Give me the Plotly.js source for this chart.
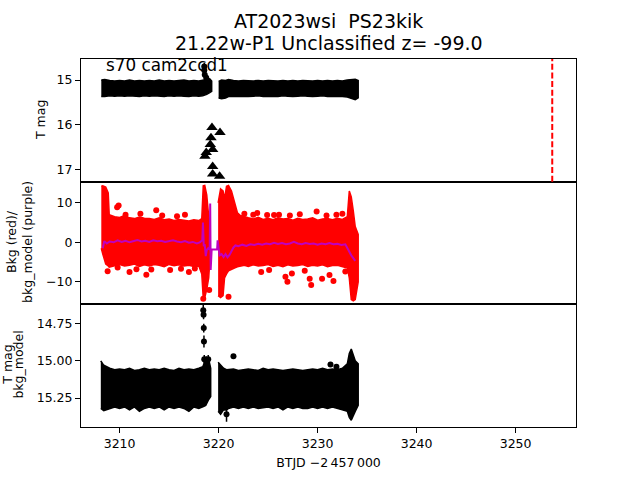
<!DOCTYPE html>
<html>
<head>
<meta charset="utf-8">
<script src="https://cdn.plot.ly/plotly-3.0.1.min.js"></script>
<style>html,body{margin:0;padding:0;background:#fff;}#plot{width:640px;height:480px;}</style>
</head>
<body>
<div id="plot"></div>
<script>
// ---------- Panel 1: T mag light curve (envelope of the dense black points) ----------
const tA_x   = [3208.15, 3208.5, 3209.0, 3209.5, 3210.0, 3210.5, 3211.0, 3211.5, 3212.0, 3212.5, 3213.0, 3213.5, 3214.0, 3214.5, 3215.0, 3215.5, 3216.0, 3216.5, 3217.0, 3217.5, 3218.0, 3218.4, 3218.8, 3219.1, 3219.3];
const tA_top = [15.00, 14.99, 15.01, 15.02, 15.01, 15.02, 15.00, 15.02, 15.01, 15.02, 15.01, 15.02, 15.00, 15.02, 15.01, 15.02, 15.01, 15.00, 15.02, 15.01, 15.02, 15.00, 14.98, 14.97, 15.02];
const tA_bot = [15.37, 15.37, 15.35, 15.36, 15.35, 15.36, 15.35, 15.36, 15.37, 15.35, 15.36, 15.35, 15.36, 15.37, 15.35, 15.36, 15.35, 15.36, 15.37, 15.35, 15.36, 15.35, 15.32, 15.28, 15.25];
const tB_x   = [3220.0, 3220.3, 3220.7, 3221.0, 3221.5, 3222.0, 3222.5, 3223.0, 3223.5, 3224.0, 3224.5, 3225.0, 3225.5, 3226.0, 3226.5, 3227.0, 3227.5, 3228.0, 3228.5, 3229.0, 3229.5, 3230.0, 3230.5, 3231.0, 3231.5, 3232.0, 3232.5, 3233.0, 3233.5, 3233.8, 3234.1];
const tB_top = [15.03, 15.00, 15.01, 14.99, 15.01, 15.02, 15.01, 15.02, 15.02, 15.01, 15.02, 15.01, 15.02, 15.02, 15.01, 15.02, 15.01, 15.02, 15.01, 15.02, 15.02, 15.01, 15.02, 15.01, 15.02, 15.01, 15.02, 15.00, 14.99, 14.98, 15.01];
const tB_bot = [15.40, 15.42, 15.40, 15.37, 15.36, 15.37, 15.36, 15.37, 15.36, 15.35, 15.37, 15.36, 15.36, 15.37, 15.35, 15.36, 15.37, 15.36, 15.35, 15.36, 15.37, 15.36, 15.35, 15.37, 15.36, 15.36, 15.37, 15.38, 15.42, 15.44, 15.40];
// bright spike points
const spike_x   = [3218.55, 3218.55, 3218.6, 3218.75];
const spike_y   = [14.70, 14.78, 14.88, 14.95];
const spike_err = [0.08, 0.05, 0.04, 0.03];
// upper limits (triangles)
const tri_x = [3219.33, 3220.14, 3219.23, 3219.16, 3219.4, 3218.62, 3218.75, 3219.4, 3219.4, 3220.1];
const tri_y = [16.06, 16.17, 16.29, 16.44, 16.55, 16.70, 16.62, 16.93, 17.10, 17.15];
// discovery date marker
const disc_x = 3253.7;

// ---------- Panel 2: background (red) and background model (purple) ----------
const rA_x   = [3208.15, 3208.3, 3208.6, 3208.85, 3208.95, 3209.5, 3210.0, 3210.5, 3211.0, 3211.5, 3212.0, 3212.5, 3213.0, 3213.5, 3214.0, 3214.5, 3215.0, 3215.5, 3216.0, 3216.5, 3217.0, 3217.5, 3218.0, 3218.3, 3218.45, 3218.6, 3218.8, 3219.0, 3219.15];
const rA_top = [14.2, 14.3, 14.0, 12.5, 7.0, 6.5, 6.3, 6.8, 6.2, 6.0, 6.4, 6.1, 6.0, 5.8, 6.2, 5.7, 5.9, 5.5, 5.8, 5.6, 5.4, 5.7, 5.5, 6.0, 14.3, 14.4, 12.0, 6.5, 4.0];
const rA_bot = [-1.5, -3.0, -5.5, -6.0, -6.3, -6.0, -5.6, -6.0, -5.8, -5.5, -6.1, -5.7, -6.0, -5.6, -5.8, -6.2, -5.6, -5.9, -5.7, -6.0, -5.8, -6.1, -6.0, -8.0, -14.3, -14.0, -12.0, -9.0, -3.0];
const rB_x   = [3219.95, 3220.2, 3220.45, 3220.6, 3220.8, 3221.0, 3221.3, 3221.6, 3221.9, 3222.2, 3222.6, 3223.0, 3223.5, 3224.0, 3224.5, 3225.0, 3225.5, 3226.0, 3226.5, 3227.0, 3227.5, 3228.0, 3228.5, 3229.0, 3229.5, 3230.0, 3230.5, 3231.0, 3231.5, 3232.0, 3232.5, 3233.0, 3233.2, 3233.4, 3233.6, 3233.8, 3234.1];
const rB_top = [10.0, 13.5, 13.0, 11.0, 14.2, 14.4, 13.0, 10.0, 7.5, 6.8, 6.4, 6.2, 5.9, 6.3, 5.8, 6.1, 5.7, 6.2, 5.9, 6.0, 5.6, 6.1, 5.8, 5.9, 6.2, 5.6, 5.9, 6.0, 5.7, 6.1, 5.8, 6.5, 13.0, 11.5, 8.0, 4.0, 2.0];
const rB_bot = [-13.5, -14.0, -13.5, -9.0, -8.0, -7.2, -6.8, -6.5, -6.2, -6.0, -5.8, -6.1, -5.7, -6.0, -5.9, -5.6, -6.1, -5.8, -6.2, -5.7, -6.0, -5.9, -5.6, -6.1, -5.8, -6.0, -5.7, -6.2, -5.9, -5.8, -6.1, -6.5, -9.0, -14.5, -14.8, -14.5, -10.0];
const rO_x = [3209.75, 3209.9, 3208.79, 3209.8, 3211.0, 3212.7, 3213.7, 3217.0, 3222.6, 3223.5, 3224.9, 3226.1, 3227.2, 3224.3, 3226.75, 3227.4, 3226.95, 3229.2, 3229.35, 3230.45, 3231.2, 3231.6, 3229.9, 3231.9, 3221.0, 3218.45, 3219.05, 3210.6, 3212.1, 3214.3, 3215.8, 3216.6, 3211.7, 3213.2, 3215.1, 3216.2, 3217.6, 3223.9, 3225.6, 3228.2, 3230.9, 3232.5, 3225.1, 3228.7, 3232.8];
const rO_y = [8.9, 9.3, -7.35, -6.4, -7.5, -8.2, 8.1, -7.5, 7.2, 7.0, 6.9, 7.0, 6.8, -7.5, -8.7, -7.9, -10.0, -9.2, -10.8, -9.2, -8.3, -9.8, 7.8, 7.0, -13.8, -14.3, -12.1, 7.0, 7.2, 6.8, 6.6, 7.0, -6.8, -6.9, -7.0, -6.7, -6.6, 7.4, 6.9, 7.1, 6.8, 7.2, -7.0, -7.2, -7.4];
const model_x = [3208.3, 3208.45, 3208.7, 3209.0, 3209.4, 3209.8, 3210.2, 3210.6, 3211.0, 3211.4, 3211.8, 3212.2, 3212.6, 3213.0, 3213.4, 3213.8, 3214.2, 3214.6, 3215.0, 3215.4, 3215.8, 3216.2, 3216.6, 3217.0, 3217.4, 3217.8, 3218.1, 3218.35, 3218.42, 3218.5, 3218.6, 3218.7, 3218.8, 3218.95, 3219.1, 3219.15, 3219.2, 3219.3, 3219.6, 3219.85, 3219.9, 3220.0, 3220.1, 3220.3, 3220.5, 3220.7, 3220.9, 3221.1, 3221.3, 3221.5, 3221.7, 3222.0, 3222.4, 3222.8, 3223.2, 3223.6, 3224.0, 3224.4, 3224.8, 3225.2, 3225.6, 3226.0, 3226.4, 3226.8, 3227.2, 3227.6, 3228.0, 3228.4, 3228.8, 3229.2, 3229.6, 3230.0, 3230.4, 3230.8, 3231.2, 3231.6, 3232.0, 3232.4, 3232.8, 3233.0, 3233.2, 3233.4, 3233.6, 3233.8];
const model_y = [-1.5, 0.3, -0.3, 0.2, 0.0, 0.5, 0.1, 0.4, 0.0, 0.3, 0.6, 0.2, 0.4, 0.1, 0.5, 0.3, 0.4, 0.1, 0.3, 0.5, 0.2, 0.0, 0.3, -0.1, 0.1, -0.3, 0.0, 0.5, 5.0, -1.0, -0.5, -3.5, -2.0, -1.5, -1.8, 9.8, -7.0, -1.8, -1.8, -1.8, 0.5, -1.5, -3.3, -3.0, -3.7, -3.0, -3.8, -3.2, -2.2, -1.3, -0.8, -1.0, -0.6, -0.9, -0.5, -0.7, -0.4, -0.6, -0.3, -0.5, -0.1, -0.4, -0.2, -0.5, -0.3, 0.1, -0.3, -0.5, -0.2, -0.4, -0.3, -0.6, -0.3, -0.5, -0.2, -0.5, -0.4, -0.7, -0.5, -1.5, -2.5, -3.3, -4.0, -4.7];

// ---------- Panel 3: T mag - bkg_model ----------
const mA_x   = [3208.1, 3208.4, 3209.0, 3209.5, 3210.0, 3210.5, 3211.0, 3211.5, 3212.0, 3212.5, 3213.0, 3213.5, 3214.0, 3214.5, 3215.0, 3215.5, 3216.0, 3216.5, 3217.0, 3217.5, 3218.0, 3218.4, 3218.7, 3219.0, 3219.2];
const mA_top = [15.00, 15.03, 15.05, 15.06, 15.055, 15.06, 15.05, 15.065, 15.06, 15.05, 15.06, 15.055, 15.06, 15.05, 15.06, 15.065, 15.05, 15.06, 15.055, 15.06, 15.05, 15.04, 14.99, 14.99, 15.05];
const mA_bot = [15.32, 15.335, 15.32, 15.31, 15.32, 15.31, 15.33, 15.31, 15.34, 15.32, 15.31, 15.32, 15.31, 15.33, 15.31, 15.32, 15.31, 15.32, 15.34, 15.31, 15.32, 15.31, 15.30, 15.26, 15.24];
const mB_x   = [3219.95, 3220.2, 3220.5, 3220.8, 3221.0, 3221.5, 3222.0, 3222.5, 3223.0, 3223.5, 3224.0, 3224.5, 3225.0, 3225.5, 3226.0, 3226.5, 3227.0, 3227.5, 3228.0, 3228.5, 3229.0, 3229.5, 3230.0, 3230.5, 3231.0, 3231.5, 3232.0, 3232.5, 3233.0, 3233.2, 3233.4, 3233.6, 3233.8, 3234.1];
const mB_top = [15.01, 15.03, 15.05, 15.06, 15.06, 15.055, 15.065, 15.06, 15.055, 15.06, 15.065, 15.05, 15.06, 15.055, 15.06, 15.065, 15.06, 15.055, 15.06, 15.065, 15.06, 15.055, 15.06, 15.05, 15.06, 15.055, 15.06, 15.05, 15.02, 14.95, 14.92, 14.96, 15.00, 15.02];
const mB_bot = [15.34, 15.36, 15.33, 15.33, 15.32, 15.31, 15.32, 15.31, 15.32, 15.31, 15.32, 15.315, 15.31, 15.32, 15.31, 15.33, 15.31, 15.32, 15.31, 15.32, 15.32, 15.31, 15.32, 15.31, 15.32, 15.31, 15.32, 15.33, 15.34, 15.38, 15.40, 15.37, 15.34, 15.30];
const eP_x   = [3218.45, 3218.48, 3218.5, 3218.52, 3218.55, 3218.75, 3218.95, 3221.5, 3231.3, 3231.9, 3220.8];
const eP_y   = [14.66, 14.69, 14.78, 14.87, 14.99, 15.00, 14.99, 14.97, 15.025, 15.04, 15.36];
const eP_err = [0.04, 0.03, 0.03, 0.04, 0.03, 0.03, 0.03, 0.015, 0.015, 0.015, 0.05];

// ---------- axes / labels ----------
const xRange = [3206.1, 3256.1];
const xTicks = [3210, 3220, 3230, 3240, 3250];
const y1Range = [17.27, 14.53];
const y1Ticks = [15, 16, 17];
const y2Range = [-15.7, 15.35];
const y2Ticks = [-10, 0, 10];
const y2TickText = ['\u221210', '0', '10'];
const y3Range = [15.445, 14.62];
const y3Ticks = [14.75, 15.00, 15.25];
const titleLines = ['AT2023wsi\u00a0 PS23kik', '21.22w-P1 Unclassified z= -99.0'];

const FONT = 'DejaVu Sans, sans-serif';
function band(x, top, bot) {
  return { x: x.concat(x.slice().reverse()), y: top.concat(bot.slice().reverse()) };
}
function fillTrace(x, top, bot, color, xa, ya) {
  const b = band(x, top, bot);
  return { type: 'scatter', mode: 'lines', x: b.x, y: b.y, fill: 'toself', fillcolor: color,
           line: { color: color, width: 1.5 }, xaxis: xa, yaxis: ya, hoverinfo: 'skip' };
}

const traces = [
  // panel 1 (top): xaxis3 / yaxis3
  fillTrace(tA_x, tA_top, tA_bot, '#000000', 'x3', 'y3'),
  fillTrace(tB_x, tB_top, tB_bot, '#000000', 'x3', 'y3'),
  { type: 'scatter', mode: 'markers', x: spike_x, y: spike_y, xaxis: 'x3', yaxis: 'y3',
    marker: { color: '#000', size: 6 }, error_y: { type: 'data', array: spike_err, color: '#000', thickness: 1.5, width: 0 } },
  { type: 'scatter', mode: 'markers', x: tri_x, y: tri_y, xaxis: 'x3', yaxis: 'y3',
    marker: { color: '#000', size: 10, symbol: 'triangle-up' } },
  // panel 2 (middle): xaxis2 / yaxis2
  fillTrace(rA_x, rA_top, rA_bot, '#ff0000', 'x2', 'y2'),
  fillTrace(rB_x, rB_top, rB_bot, '#ff0000', 'x2', 'y2'),
  { type: 'scatter', mode: 'markers', x: rO_x, y: rO_y, xaxis: 'x2', yaxis: 'y2',
    marker: { color: '#ff0000', size: 6 } },
  { type: 'scatter', mode: 'lines', x: model_x, y: model_y, xaxis: 'x2', yaxis: 'y2',
    line: { color: '#bf00bf', width: 2 } },
  // panel 3 (bottom): xaxis / yaxis
  fillTrace(mA_x, mA_top, mA_bot, '#000000', 'x', 'y'),
  fillTrace(mB_x, mB_top, mB_bot, '#000000', 'x', 'y'),
  { type: 'scatter', mode: 'markers', x: eP_x, y: eP_y, xaxis: 'x', yaxis: 'y',
    marker: { color: '#000', size: 6 }, error_y: { type: 'data', array: eP_err, color: '#000', thickness: 1.5, width: 0 } }
];

const tickFont = { family: FONT, size: 12.5, color: '#000' };
const baseAxis = { showline: true, mirror: true, linecolor: '#000', linewidth: 1, showgrid: false, zeroline: false,
                   ticks: 'outside', ticklen: 5, tickwidth: 1, tickcolor: '#000', tickfont: tickFont };
function label(text, x, y, size) {
  return { text: text, xref: 'paper', yref: 'paper', x: x, y: y, textangle: -90, xanchor: 'center', yanchor: 'middle',
           showarrow: false, font: { family: FONT, size: size || 12.5, color: '#000' } };
}

const layout = {
  width: 640, height: 480,
  margin: { l: 81, r: 64, t: 59, b: 53 },
  paper_bgcolor: '#fff', plot_bgcolor: '#fff',
  showlegend: false,
  font: { family: FONT, color: '#000' },
  xaxis:  Object.assign({}, baseAxis, { range: xRange, anchor: 'y', tickvals: xTicks, ticktext: xTicks.map(String),
           title: { text: 'BTJD \u22122\u2009457\u2009000', font: { family: FONT, size: 12.5, color: '#000' }, standoff: 8 } }),
  xaxis2: Object.assign({}, baseAxis, { range: xRange, anchor: 'y2', matches: 'x', showticklabels: false, ticks: '' }),
  xaxis3: Object.assign({}, baseAxis, { range: xRange, anchor: 'y3', matches: 'x', showticklabels: false, ticks: '' }),
  yaxis:  Object.assign({}, baseAxis, { domain: [0, 1/3], range: y3Range, anchor: 'x', tickvals: y3Ticks, ticktext: y3Ticks.map(v => v.toFixed(2)) }),
  yaxis2: Object.assign({}, baseAxis, { domain: [1/3, 2/3], range: y2Range, anchor: 'x2', tickvals: y2Ticks, ticktext: y2TickText }),
  yaxis3: Object.assign({}, baseAxis, { domain: [2/3, 1], range: y1Range, anchor: 'x3', tickvals: y1Ticks, ticktext: y1Ticks.map(String) }),
  shapes: [
    { type: 'line', xref: 'x3', yref: 'y3 domain', x0: disc_x, x1: disc_x, y0: 0, y1: 1,
      line: { color: '#ff0000', width: 2, dash: '6px,2.6px' } }
  ],
  annotations: [
    { text: titleLines[0], xref: 'paper', yref: 'paper', x: 0.5, y: 1.1033, xanchor: 'center', yanchor: 'middle',
      showarrow: false, font: { family: FONT, size: 19, color: '#000' } },
    { text: titleLines[1], xref: 'paper', yref: 'paper', x: 0.5, y: 1.0435, xanchor: 'center', yanchor: 'middle',
      showarrow: false, font: { family: FONT, size: 19, color: '#000' } },
    { text: 's70 cam2ccd1', xref: 'x3 domain', yref: 'y3 domain', x: 0.046, y: 0.953, xanchor: 'left', yanchor: 'middle',
      showarrow: false, font: { family: FONT, size: 16.8, color: '#000' } },
    label('T mag', -0.083, 0.834),
    label('Bkg (red)/', -0.139, 0.503),
    label('bkg_model (purple)', -0.107, 0.503),
    label('T mag', -0.149, 0.17),
    label('bkg_model', -0.127, 0.17)
  ]
};

Plotly.newPlot('plot', traces, layout, { staticPlot: true, displayModeBar: false });
</script>
</body>
</html>
